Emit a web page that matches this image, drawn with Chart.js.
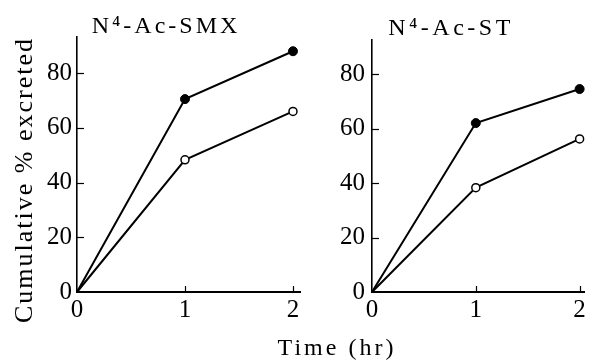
<!DOCTYPE html>
<html>
<head>
<meta charset="utf-8">
<script src="https://cdn.jsdelivr.net/npm/chart.js@4"></script>
<style>
  html, body { margin: 0; padding: 0; background: #fff; }
  #wrap { position: relative; width: 590px; height: 363px; }
  canvas { position: absolute; left: 0; top: 0; }
</style>
</head>
<body>
<div id="wrap">
  <canvas id="left" width="590" height="363"></canvas>
  <canvas id="right" width="590" height="363"></canvas>
</div>
<script>
// ---- data ----
const timeHr = [0, 1, 2];
const smxFilled = [0, 70.5, 88];
const smxOpen = [0, 48.3, 66];
const stFilled = [0, 62, 74.5];
const stOpen = [0, 38.3, 56.2];
const xTicks = [0, 1, 2];
const yTicks = [0, 20, 40, 60, 80];
const leftTitle = 'N\u2074-Ac-SMX';
const rightTitle = 'N\u2074-Ac-ST';
const yTitle = 'Cumulative % excreted';
const xTitle = 'Time (hr)';

const FONT = '"Liberation Serif", "DejaVu Serif", serif';

function pts(xs, ys) { return xs.map((x, i) => ({ x: x, y: ys[i] })); }

const decor = {
  id: 'decor',
  afterDraw(chart, args, o) {
    const ctx = chart.ctx;
    const xs = chart.scales.x, ys = chart.scales.y;
    ctx.save();
    ctx.strokeStyle = '#000';
    ctx.lineWidth = 1.2;
    ys.ticks.forEach(t => {
      if (t.value === 0) return;
      const y = Math.round(ys.getPixelForValue(t.value)) + 0.5;
      ctx.beginPath(); ctx.moveTo(xs.left, y); ctx.lineTo(xs.left + 7, y); ctx.stroke();
    });
    xs.ticks.forEach(t => {
      if (t.value === 0) return;
      const x = Math.round(xs.getPixelForValue(t.value)) + 0.5;
      ctx.beginPath(); ctx.moveTo(x, ys.bottom); ctx.lineTo(x, ys.bottom - 6); ctx.stroke();
    });
    ctx.fillStyle = '#000';
    (o.texts || []).forEach(t => {
      ctx.save();
      ctx.font = t.size + 'px ' + FONT;
      try { ctx.letterSpacing = (t.spacing || 0) + 'px'; } catch (e) {}
      ctx.textAlign = 'center';
      ctx.textBaseline = 'alphabetic';
      ctx.translate(t.x, t.y);
      if (t.rotate) ctx.rotate(t.rotate);
      ctx.fillText(t.text, 0, 0);
      ctx.restore();
    });
    ctx.restore();
  }
};

function makeChart(id, filled, open, cfg) {
  return new Chart(document.getElementById(id), {
    type: 'line',
    data: {
      datasets: [
        {
          data: pts(timeHr, filled),
          borderColor: '#000', borderWidth: 2,
          pointBackgroundColor: '#000', pointBorderColor: '#000',
          pointRadius: c => c.dataIndex === 0 ? 0 : 4.5,
          pointBorderWidth: 1, clip: false, tension: 0
        },
        {
          data: pts(timeHr, open),
          borderColor: '#000', borderWidth: 2,
          pointBackgroundColor: '#fff', pointBorderColor: '#000',
          pointRadius: c => c.dataIndex === 0 ? 0 : 4,
          pointBorderWidth: 1.5, clip: false, tension: 0
        }
      ]
    },
    options: {
      responsive: false,
      animation: false,
      devicePixelRatio: 1,
      layout: { padding: cfg.padding },
      plugins: { legend: { display: false }, tooltip: { enabled: false }, decor: { texts: cfg.texts } },
      scales: {
        x: {
          type: 'linear', min: 0, max: cfg.xMax,
          afterBuildTicks: s => { s.ticks = xTicks.map(v => ({ value: v })); },
          afterFit: s => { s.height = 71; s.paddingLeft = 0; s.paddingRight = 0; },
          grid: { display: false, drawTicks: false },
          border: { display: true, color: '#000', width: 2 },
          ticks: { color: '#000', font: { family: FONT, size: 25 }, padding: 3, maxRotation: 0 }
        },
        y: {
          type: 'linear', min: 0, max: cfg.yMax,
          afterBuildTicks: s => { s.ticks = yTicks.map(v => ({ value: v })); },
          afterFit: s => { s.width = cfg.yWidth; s.paddingTop = 0; s.paddingBottom = 0; },
          grid: { display: false, drawTicks: false },
          border: { display: true, color: '#000', width: 1.6 },
          ticks: { color: '#000', font: { family: FONT, size: 25 }, padding: cfg.yPad }
        }
      }
    },
    plugins: [decor]
  });
}

makeChart('left', smxFilled, smxOpen, {
  padding: { left: 0, top: 37, right: 290, bottom: 0 },
  yWidth: 77, yPad: 5, xMax: 2.065, yMax: 93.2,
  texts: [
    { text: leftTitle, x: 166, y: 33, size: 24, spacing: 3 },
    { text: yTitle, x: 32, y: 180, size: 26, spacing: 2, rotate: -Math.PI / 2 },
    { text: xTitle, x: 337, y: 355, size: 24, spacing: 3 }
  ]
});

makeChart('right', stFilled, stOpen, {
  padding: { left: 300, top: 40, right: 0, bottom: 0 },
  yWidth: 72, yPad: 7, xMax: 2.047, yMax: 92.5,
  texts: [
    { text: rightTitle, x: 451, y: 35, size: 24, spacing: 3.5 }
  ]
});
</script>
</body>
</html>
